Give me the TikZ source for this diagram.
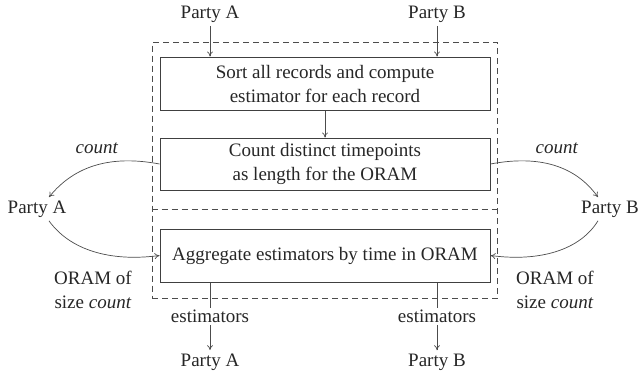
\documentclass[tikz,border=0pt]{standalone}
\usepackage{fontspec}
\setmainfont{Liberation Serif}
\usetikzlibrary{arrows.meta}
\begin{document}
\begin{tikzpicture}[x=1pt,y=-1pt,
  every node/.style={font=\fontsize{19}{24}\selectfont, text=black!85},
  stage/.style={draw=black!75, line width=1pt, minimum width=330pt, align=center, inner sep=0pt},
  flow/.style={draw=black!70, line width=0.7pt, -{To[length=5pt,width=6pt]}},
  lbl/.style={fill=white, inner sep=2pt, align=center},
  group/.style={draw=black!70, dash pattern=on 6pt off 4pt, line width=0.8pt}]
\useasboundingbox (0,0) rectangle (640,375);

% secure computation region and its divider
\node[group, minimum width=345pt, minimum height=256.5pt, inner sep=0pt] (grp) at (324.5,170.25) {};
\coordinate (sep) at (0,209);
\draw[group] (grp.west |- sep) -- (grp.east |- sep);

% processing stages
\node[stage, minimum height=53pt] (b1) at (325,83.5) {Sort all records and compute\\estimator for each record};
\node[stage, minimum height=52pt] (b2) at (325,164) {Count distinct timepoints\\as length for the ORAM};
\node[stage, minimum height=53pt] (b3) at (325,255.5) {Aggregate estimators by time in ORAM};

% parties
\node (ta) at (210,14) {Party A};
\node (tb) at (437,14) {Party B};
\node (la) at (37,209) {Party A};
\node (rb) at (610,209) {Party B};
\node (ba) at (210,362) {Party A};
\node (bb) at (437,362) {Party B};

% inputs
\draw[flow] (ta) -- (ta |- b1.north);
\draw[flow] (tb) -- (tb |- b1.north);
\draw[flow] (b1.south) -- (b2.north);

% count sent out, ORAM sent back
\draw[flow] (b2.west) .. controls (112,155) and (75,165) .. ([xshift=12pt]la.north);
\draw[flow] ([xshift=12pt]la.south) .. controls (70,250) and (110,262) .. (b3.west);
\draw[flow] (b2.east) .. controls (538,155) and (575,165) .. ([xshift=-12pt]rb.north);
\draw[flow] ([xshift=-12pt]rb.south) .. controls (580,250) and (540,262) .. (b3.east);

\node[lbl] (cl) at (97,148) {\textit{count}};
\node[lbl] (cr) at (557,148) {\textit{count}};
\node[lbl] (ol) at (93,290) {ORAM of\\size \textit{count}};
\node[lbl] (or) at (555,290) {ORAM of\\size \textit{count}};

% outputs
\draw[flow] (b3.south -| ba) -- node[lbl] {estimators} (ba);
\draw[flow] (b3.south -| bb) -- node[lbl] {estimators} (bb);
\end{tikzpicture}
\end{document}
